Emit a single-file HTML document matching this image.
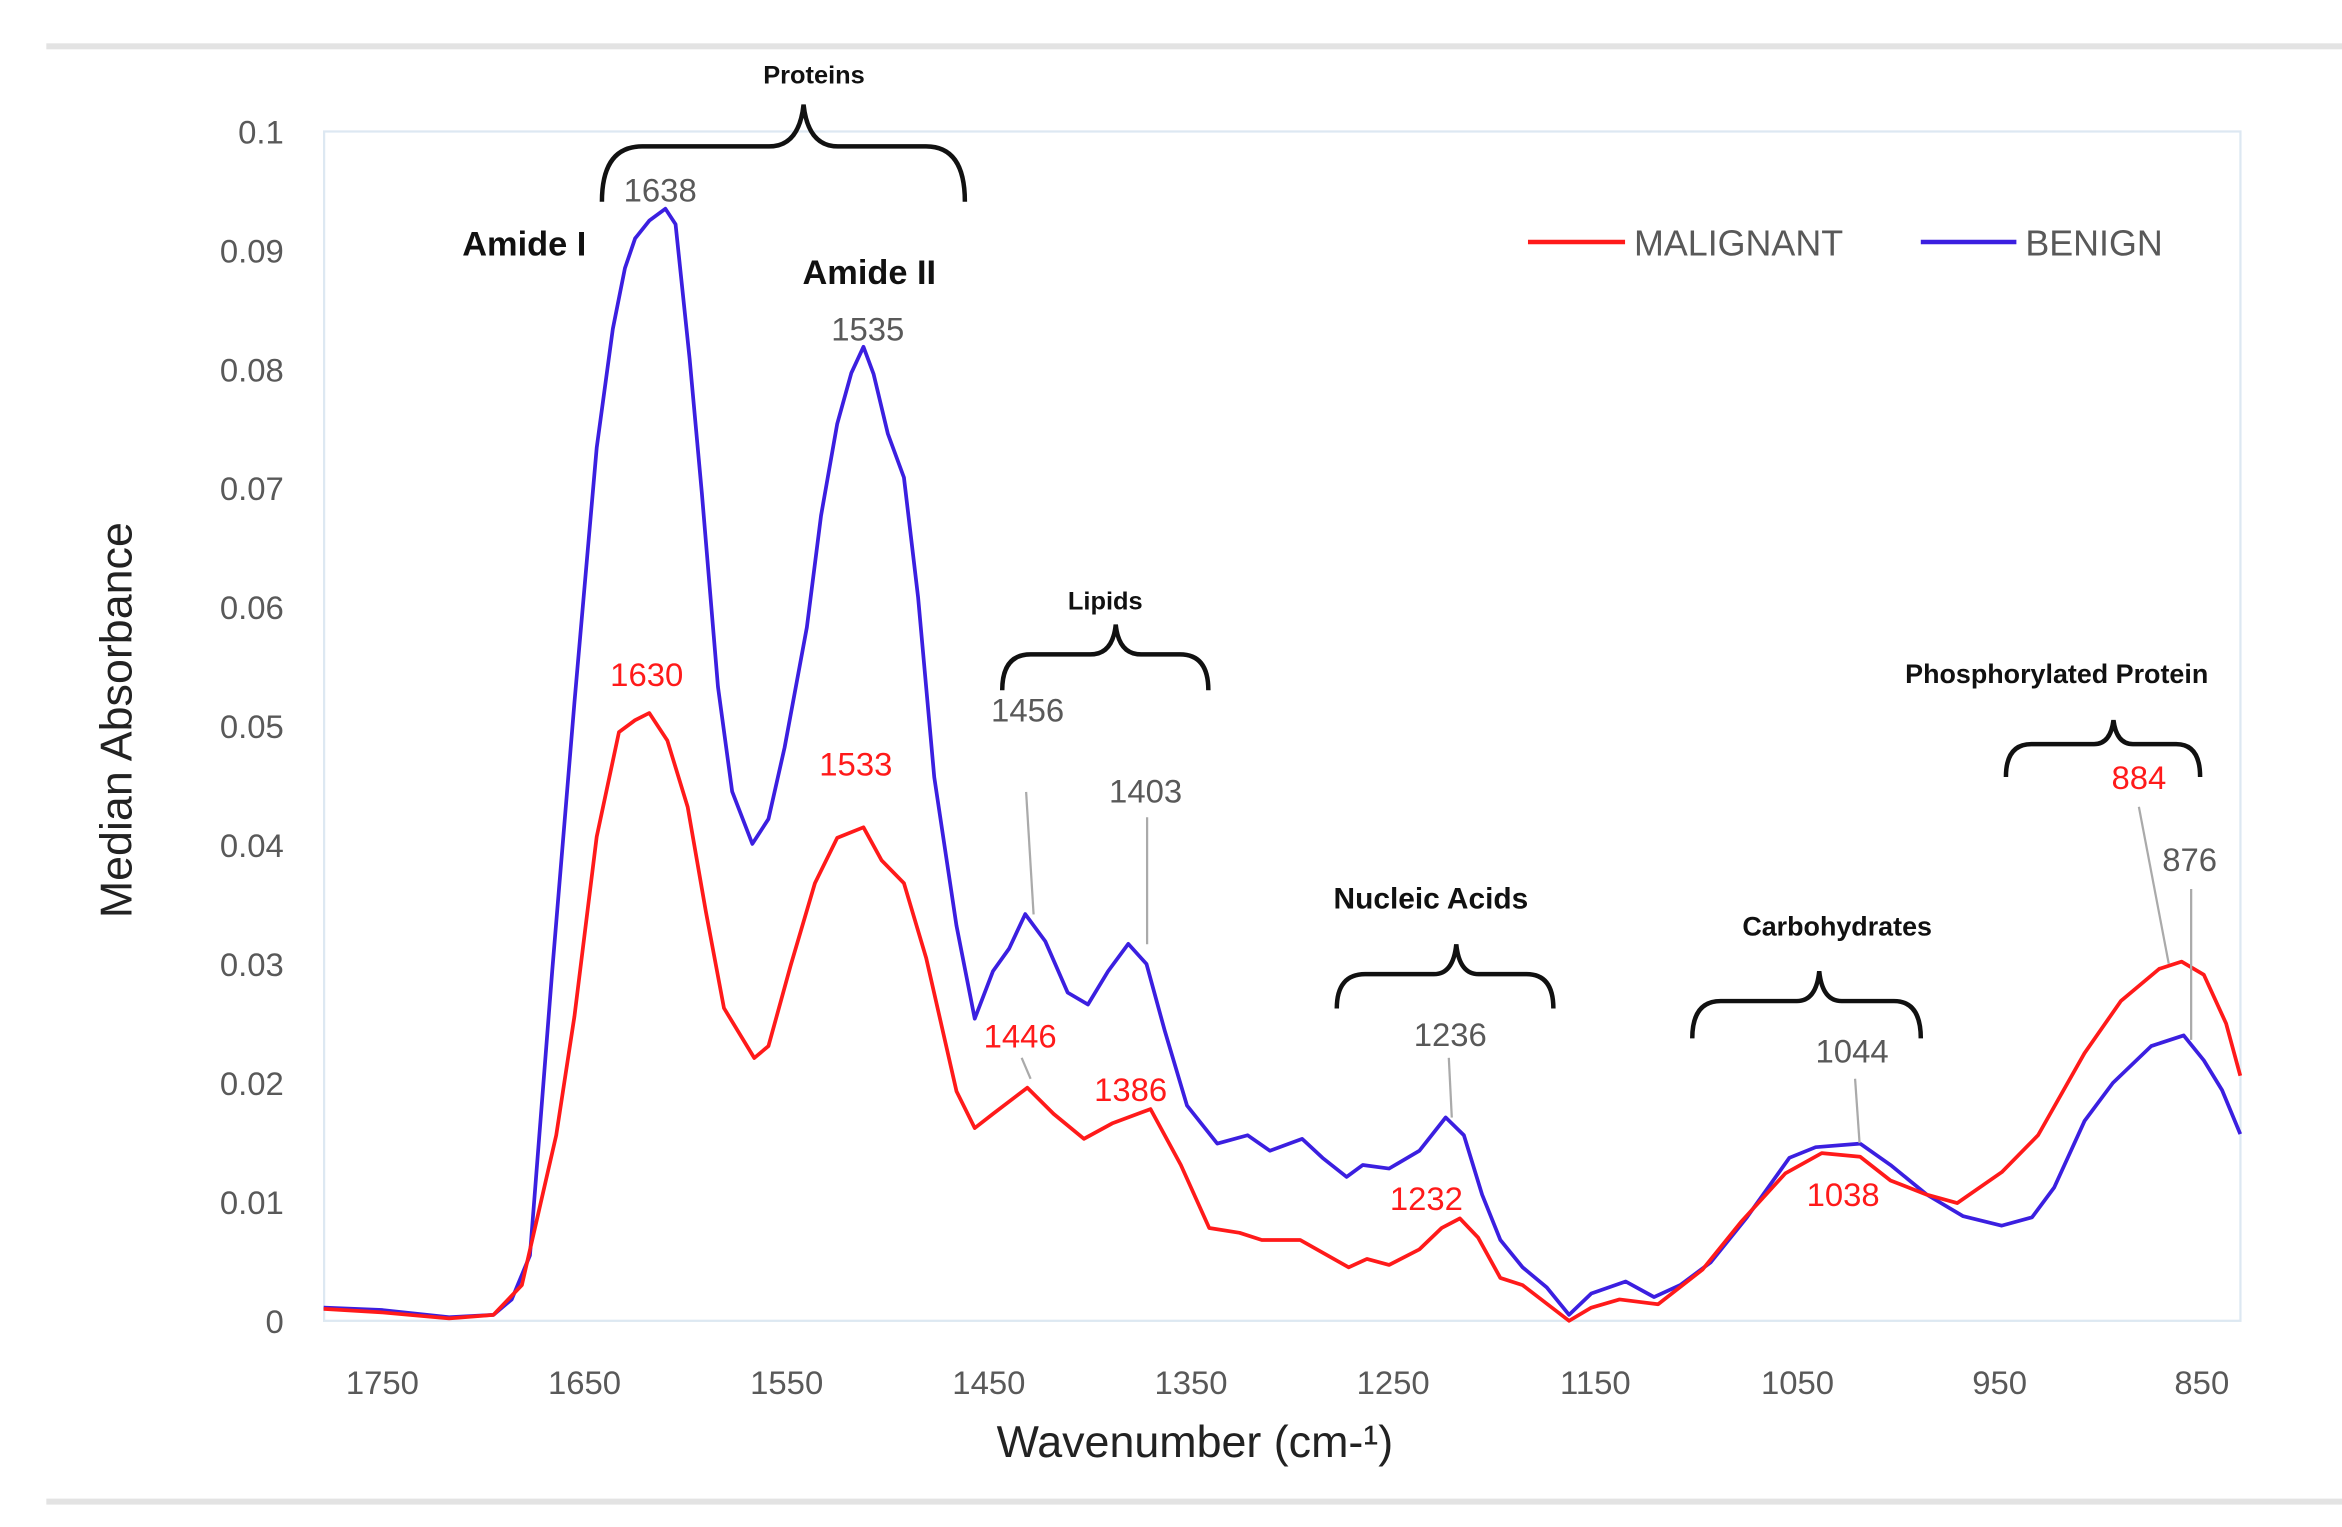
<!DOCTYPE html>
<html><head><meta charset="utf-8"><style>
html,body{margin:0;padding:0;background:#fff;}
svg{display:block;}
text{font-family:"Liberation Sans",sans-serif;}
</style></head><body>
<svg id="chart" width="2342" height="1527" viewBox="0 0 1568 1022" preserveAspectRatio="none">
  <rect x="31" y="29" width="1537" height="4" fill="#e3e3e3"/>
  <rect x="31" y="1003" width="1537" height="4" fill="#e3e3e3"/>
  <rect x="217" y="88" width="1283" height="796" fill="none" stroke="#dde8f2" stroke-width="1.5"/>
  <g id="yticks"></g>
  <g id="xticks"></g>
  <g id="series"></g>
  <text x="88" y="482" transform="rotate(-90 88 482)" text-anchor="middle" font-size="30" fill="#222">Median Absorbance</text>
  <text x="800" y="975" text-anchor="middle" font-size="30" fill="#222">Wavenumber (cm-¹)</text>
  <g>
    <line x1="1023" y1="162" x2="1088" y2="162" stroke="#ff1a1a" stroke-width="3"/>
    <text x="1094" y="171" font-size="24" fill="#595959">MALIGNANT</text>
    <line x1="1286" y1="162" x2="1350" y2="162" stroke="#3b1fe0" stroke-width="3"/>
    <text x="1356" y="171" font-size="24" fill="#595959">BENIGN</text>
  </g>
  <g fill="none" stroke="#111" stroke-width="3">
    <path d="M403 135 Q403 98 430 98 L515 98 Q535 98 538 70 Q541 98 561 98 L620 98 Q646 98 646 135"/>
    <path d="M671 462 Q671 438 690 438 L730 438 Q745 438 747 418 Q749 438 764 438 L790 438 Q809 438 809 462"/>
    <path d="M895 675 Q895 652 914 652 L960 652 Q973 652 975 632 Q977 652 990 652 L1022 652 Q1040 652 1040 675"/>
    <path d="M1133 695 Q1133 670 1152 670 L1203 670 Q1216 670 1218 650 Q1220 670 1233 670 L1268 670 Q1286 670 1286 695"/>
    <path d="M1343 520 Q1343 498 1360 498 L1402 498 Q1413 498 1415 482 Q1417 498 1428 498 L1457 498 Q1473 498 1473 520"/>
  </g>
  <g font-weight="bold" font-size="20" fill="#111">
    <text x="545" y="56" text-anchor="middle" font-size="17">Proteins</text>
    <text x="351" y="171" text-anchor="middle" font-size="23">Amide I</text>
    <text x="582" y="190" text-anchor="middle" font-size="23">Amide II</text>
    <text x="740" y="408" text-anchor="middle" font-size="17">Lipids</text>
    <text x="958" y="608" text-anchor="middle">Nucleic Acids</text>
    <text x="1230" y="626" text-anchor="middle" font-size="18">Carbohydrates</text>
    <text x="1377" y="457" text-anchor="middle" font-size="18">Phosphorylated Protein</text>
  </g>
  <g stroke="#aaa" stroke-width="1.5">
    <line x1="687" y1="530" x2="692" y2="612"/><line x1="768" y1="547" x2="768" y2="632"/>
    <line x1="970" y1="708" x2="972" y2="748"/><line x1="1242" y1="722" x2="1245" y2="765"/>
    <line x1="1432" y1="540" x2="1452" y2="645"/><line x1="1467" y1="595" x2="1467" y2="696"/>
    <line x1="684" y1="708" x2="690" y2="722"/>
  </g>
  <g font-size="22">
    <text x="442" y="135" text-anchor="middle" fill="#595959">1638</text>
    <text x="581" y="228" text-anchor="middle" fill="#595959">1535</text>
    <text x="688" y="483" text-anchor="middle" fill="#595959">1456</text>
    <text x="767" y="537" text-anchor="middle" fill="#595959">1403</text>
    <text x="971" y="700" text-anchor="middle" fill="#595959">1236</text>
    <text x="1240" y="711" text-anchor="middle" fill="#595959">1044</text>
    <text x="1466" y="583" text-anchor="middle" fill="#595959">876</text>
    <text x="433" y="459" text-anchor="middle" fill="#ff1a1a">1630</text>
    <text x="573" y="519" text-anchor="middle" fill="#ff1a1a">1533</text>
    <text x="683" y="701" text-anchor="middle" fill="#ff1a1a">1446</text>
    <text x="757" y="737" text-anchor="middle" fill="#ff1a1a">1386</text>
    <text x="955" y="810" text-anchor="middle" fill="#ff1a1a">1232</text>
    <text x="1234" y="807" text-anchor="middle" fill="#ff1a1a">1038</text>
    <text x="1432" y="528" text-anchor="middle" fill="#ff1a1a">884</text>
  </g>
</svg>
<script>
const yTicks=[0,0.01,0.02,0.03,0.04,0.05,0.06,0.07,0.08,0.09,0.1];
const yTickLabels=["0","0.01","0.02","0.03","0.04","0.05","0.06","0.07","0.08","0.09","0.1"];
const xTicks=[1750,1650,1550,1450,1350,1250,1150,1050,950,850];
const benignWn=[1779,1750,1717,1695,1686,1677,1666,1655,1644,1636,1630,1625,1618,1610,1605,1598,1592,1584,1577,1567,1559,1551,1540,1533,1525,1518,1512,1507,1500,1492,1485,1477,1466,1457,1448,1440,1432,1422,1411,1401,1391,1381,1372,1363,1352,1337,1322,1311,1295,1285,1273,1265,1252,1237,1224,1215,1206,1197,1186,1174,1163,1152,1135,1121,1108,1093,1075,1054,1041,1019,1004,986,968,949,934,923,908,894,875,859,849,840,831];
const benignVal=[.0011,.0009,.0003,.0005,.0018,.0055,.0294,.0520,.0734,.0834,.0885,.0910,.0925,.0935,.0922,.0809,.0696,.0533,.0445,.0401,.0422,.0482,.0583,.0677,.0754,.0797,.0819,.0796,.0746,.0709,.0608,.0457,.0332,.0254,.0294,.0313,.0342,.0319,.0276,.0266,.0294,.0317,.0300,.0244,.0181,.0149,.0156,.0143,.0153,.0137,.0121,.0131,.0128,.0143,.0171,.0156,.0106,.0068,.0045,.0028,.0005,.0023,.0033,.0020,.0030,.0049,.0087,.0137,.0146,.0149,.0131,.0106,.0088,.0080,.0087,.0112,.0168,.0200,.0231,.0240,.0219,.0194,.0157];
const malWn=[1779,1750,1717,1695,1681,1664,1655,1644,1633,1625,1618,1609,1599,1590,1581,1566,1559,1548,1536,1525,1512,1503,1492,1481,1466,1457,1448,1431,1418,1403,1389,1370,1355,1341,1326,1315,1296,1272,1263,1252,1237,1226,1217,1208,1197,1186,1163,1152,1138,1119,1097,1078,1056,1038,1019,1004,986,971,949,931,908,890,871,860,849,838,831];
const malVal=[.0010,.0007,.0002,.0005,.0030,.0156,.0256,.0407,.0495,.0505,.0511,.0488,.0432,.0344,.0263,.0221,.0231,.0299,.0368,.0406,.0415,.0387,.0368,.0305,.0193,.0162,.0174,.0196,.0174,.0153,.0166,.0178,.0131,.0078,.0074,.0068,.0068,.0045,.0052,.0047,.0060,.0078,.0086,.0070,.0036,.0030,.0,.0011,.0018,.0014,.0043,.0083,.0124,.0141,.0138,.0118,.0106,.0099,.0125,.0156,.0225,.0269,.0296,.0302,.0291,.0250,.0206];
const NS="http://www.w3.org/2000/svg";
function xS(w){return 256+(1750-w)*1.3535;}
function yS(v){return 884-v*7960;}
const yg=document.getElementById('yticks');
yTicks.forEach((v,i)=>{const t=document.createElementNS(NS,'text');
t.setAttribute('x',190);t.setAttribute('y',yS(v)+8);t.setAttribute('text-anchor','end');
t.setAttribute('font-size','22');t.setAttribute('fill','#595959');t.textContent=yTickLabels[i];


yg.appendChild(t);});
const xg=document.getElementById('xticks');
xTicks.forEach(w=>{const t=document.createElementNS(NS,'text');
t.setAttribute('x',xS(w));t.setAttribute('y',933);t.setAttribute('text-anchor','middle');
t.setAttribute('font-size','22');t.setAttribute('fill','#595959');t.textContent=String(w);


xg.appendChild(t);});
const sg=document.getElementById('series');
function line(ws,vs,color,name){const p=document.createElementNS(NS,'path');
p.setAttribute('d',ws.map((w,i)=>(i?'L':'M')+xS(w).toFixed(1)+' '+yS(vs[i]).toFixed(1)).join(' '));
p.setAttribute('fill','none');p.setAttribute('stroke',color);p.setAttribute('stroke-width','2.5');p.setAttribute('stroke-linejoin','round');


sg.appendChild(p);}
line(benignWn,benignVal,'#3b1fe0','benign-line');
line(malWn,malVal,'#ff1a1a','malignant-line');
</script>
</body></html>
